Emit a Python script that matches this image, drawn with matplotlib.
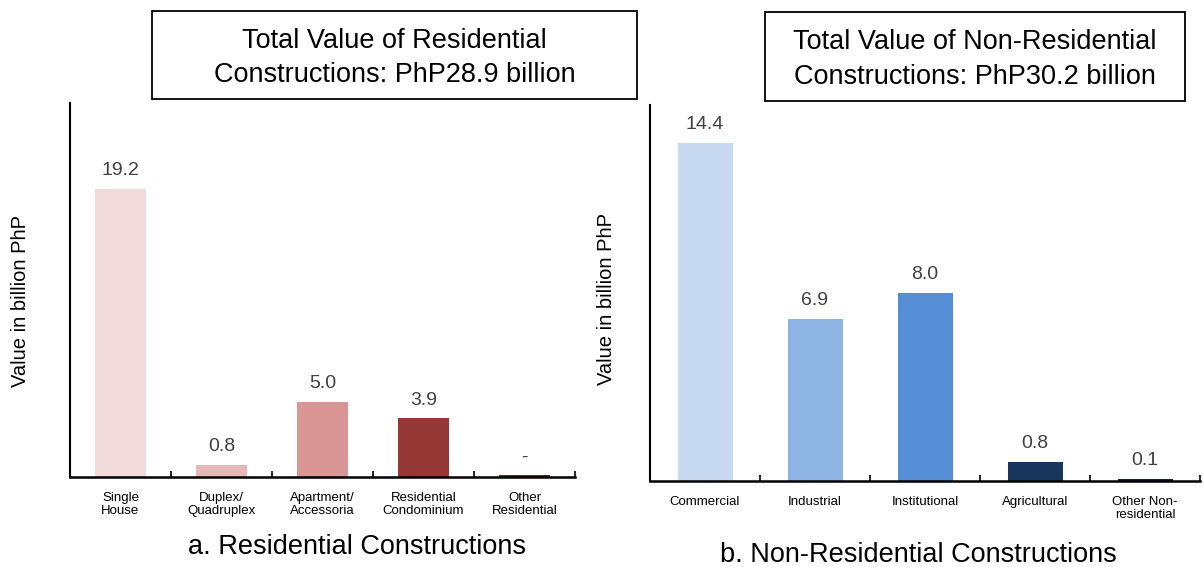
import matplotlib
matplotlib.use("Agg")
import matplotlib.pyplot as plt
from matplotlib.patches import Rectangle
from matplotlib.transforms import Bbox, TransformedBbox
import numpy as np

plt.rcParams['font.family'] = ['Liberation Sans', 'DejaVu Sans']

# -------------------- data --------------------
res_labels = ["Single\nHouse", "Duplex/\nQuadruplex", "Apartment/\nAccessoria",
              "Residential\nCondominium", "Other\nResidential"]
res_values = [19.2, 0.8, 5.0, 3.9, 0.1]
res_text = ["19.2", "0.8", "5.0", "3.9", "-"]
res_colors = ["#F2DCDB", "#E6B9B8", "#D99694", "#953735", "#632523"]

nonres_labels = ["Commercial", "Industrial", "Institutional", "Agricultural",
                 "Other Non-\nresidential"]
nonres_values = [14.4, 6.9, 8.0, 0.8, 0.1]
nonres_text = ["14.4", "6.9", "8.0", "0.8", "0.1"]
nonres_colors = ["#C6D9F1", "#8EB4E3", "#558ED5", "#17375E", "#10253F"]

W, H = 1204, 567
fig = plt.figure(figsize=(W / 100, H / 100), dpi=100)
ax1 = fig.add_axes([70 / W, 1 - 477 / H, 505 / W, 374 / H])
ax2 = fig.add_axes([650 / W, 1 - 481 / H, 550 / W, 376 / H])


def draw_panel(ax, labels, values, texts, colors, ymax):
    x = np.arange(len(values))
    bars = ax.bar(x, values, width=0.5, color=colors)
    for rect, t in zip(bars, texts):
        ax.annotate(t, (rect.get_x() + rect.get_width() / 2, rect.get_height()),
                    xytext=(0, 7), textcoords="offset points",
                    ha="center", va="bottom", fontsize=14, color="#404040")
    ax.set_xlim(-0.5, len(values) - 0.5)
    ax.set_ylim(0, ymax)
    ax.set_xticks(x)
    ax.set_xticklabels(labels, fontsize=9.5, linespacing=1.1)
    ax.tick_params(axis="x", length=0, pad=11)
    ax.set_xticks(np.arange(len(values) + 1) - 0.5, minor=True)
    ax.tick_params(axis="x", which="minor", direction="in", length=4, width=1.2)
    ax.set_yticks([])
    for s in ["top", "right"]:
        ax.spines[s].set_visible(False)
    ax.spines["left"].set_linewidth(1.5)
    ax.spines["bottom"].set_linewidth(1.8)


draw_panel(ax1, res_labels, res_values, res_text, res_colors, 24.9)
draw_panel(ax2, nonres_labels, nonres_values, nonres_text, nonres_colors, 16)

# the residential labels run past the bottom of their text area
clip = TransformedBbox(Bbox([[0, 50 / H], [1, 1]]), fig.transFigure)
for lbl in ax1.get_xticklabels():
    lbl.set_clip_box(clip)
    lbl.set_clip_on(True)

fig.text(21 / W, 1 - 301 / H, "Value in billion PhP", rotation=90,
         ha="center", va="center", fontsize=14.5)
fig.text(606 / W, 1 - 299 / H, "Value in billion PhP", rotation=90,
         ha="center", va="center", fontsize=14.5)

# boxed totals
for (x0, y0, x1, y1), txt in [((152, 11, 637, 99),
                               "Total Value of Residential\nConstructions: PhP28.9 billion"),
                              ((765, 12, 1185, 101),
                               "Total Value of Non-Residential\nConstructions: PhP30.2 billion")]:
    fig.patches.append(Rectangle((x0 / W, 1 - y1 / H), (x1 - x0) / W, (y1 - y0) / H,
                                 transform=fig.transFigure, fc="white", ec="black", lw=1.3))
    fig.text((x0 + x1) / 2 / W, 1 - ((y0 + y1) / 2 + 3) / H, txt, ha="center", va="center",
             fontsize=19.5, linespacing=1.45)

# panel captions
fig.text(357 / W, 1 - 547 / H, "a. Residential Constructions",
         ha="center", va="center", fontsize=19.5)
fig.text(918 / W, 1 - 555 / H, "b. Non-Residential Constructions",
         ha="center", va="center", fontsize=19.5)

fig.savefig("out.png", dpi=100)
